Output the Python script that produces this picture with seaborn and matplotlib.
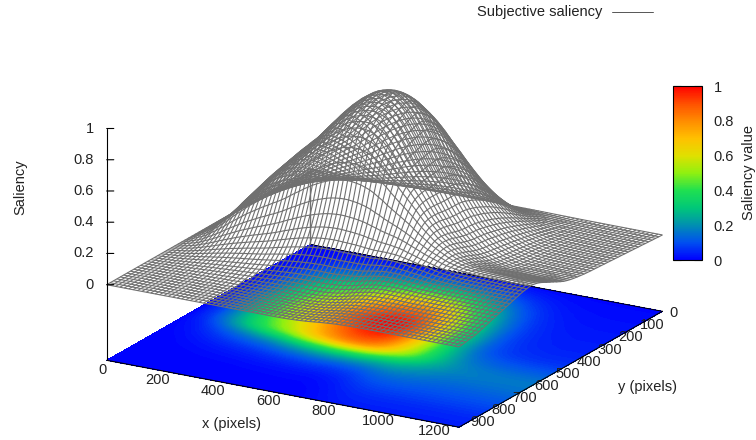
import numpy as np
import matplotlib
matplotlib.use('Agg')
import matplotlib.pyplot as plt
import seaborn as sns
from matplotlib.cm import ScalarMappable
from matplotlib.colors import Normalize
from mpl_toolkits.mplot3d import proj3d

sns.set_theme(style='white')
plt.rcParams['font.family'] = ['Liberation Sans', 'DejaVu Sans']

x_pixels = np.arange(0, 1201, 15)
y_pixels = np.arange(0, 901, 15)

main_x = [0, .02, .04, .06, .08, .105, .14, .17, .205, .24,
          .28, .315, .35, .385, .42, .45, .48, .51, .54, .565,
          .595, .62, .65, .68, .715, .75, .78, .815, .845, .875,
          .90, .925, .945, .965, .98, .99, .997, 1.0, .998, .99,
          .975, .95, .92, .88, .83, .78, .72, .66, .60, .545,
          .49, .435, .38, .33, .285, .245, .205, .175, .145, .12,
          .095, .075, .06, .045, .035, .027, .02, .014, .01, .007,
          .005, .003, .002, .001, 0, 0, 0, 0, 0, 0, 0]
main_y = [.01, .03, .055, .085, .12, .16, .205, .255, .31, .365,
          .425, .485, .545, .60, .655, .705, .755, .80, .84, .875,
          .91, .94, .965, .985, .998, 1.0, .992, .98, .968, .955,
          .94, .92, .895, .865, .825, .765, .68, .58, .475, .385,
          .31, .25, .20, .16, .125, .098, .075, .058, .045, .033,
          .024, .018, .012, .009, .007, .005, .003, .002, .001, .001, 0]
side_x = [0] * 40 + [.02, .05, .09, .14, .2, .27, .35, .45, .55, .64,
                     .72, .8, .86, .9, .94, .96, .98, .99] + [1] * 23
side_y = [.005, .006, .008, .009, .011, .012, .014, .015, .017, .018,
          .02, .021, .023, .024, .026, .027, .029, .03, .032, .033,
          .035, .036, .038, .04, .043, .046, .05, .054, .06, .067,
          .077, .088, .10, .111, .122, .134, .145, .153, .158, .16,
          .155, .151, .145, .137, .13, .122, .115, .107, .10, .093,
          .085, .077, .07, .062, .055, .048, .045, .041, .037, .033, .03]

x_ticks = [0, 200, 400, 600, 800, 1000, 1200]
y_ticks = [0, 100, 200, 300, 400, 500, 600, 700, 800, 900]
z_ticks = [0, 0.2, 0.4, 0.6, 0.8, 1]
cbar_ticks = [0, 0.2, 0.4, 0.6, 0.8, 1]
cbar_colors = ['#0000ff', '#0050f0', '#0090b0', '#00c878', '#20e050', '#90f010',
               '#e0e000', '#ffc000', '#ff8c00', '#ff5000', '#ff0000']

z_base = -0.484
wire_color = '#707070'
fs = 10.5

saliency = np.outer(main_y, main_x) + np.outer(side_y, side_x)
saliency = np.clip(saliency, 0, 1)
X, Y = np.meshgrid(x_pixels, y_pixels)
cmap = sns.blend_palette(cbar_colors, as_cmap=True)

W, H = 756, 440
fig = plt.figure(figsize=(W / 100, H / 100), dpi=100)
ax = fig.add_axes([33.3 / W, 1 - 451 / H, 684 / W, 450 / H], projection='3d',
                  computed_zorder=False, proj_type='ortho')
# gnuplot stretches the unit box to the canvas, so no square axes here
ax.apply_aspect = lambda position=None: None
ax.view_init(elev=30, azim=-60)
ax.set_box_aspect((1, 1, 1))
ax.set_xlim(0, 1200)
ax.set_ylim(900, 0)
ax.set_zlim(z_base, 1)
ax.set_axis_off()

ax.contourf(X, Y, saliency, levels=np.linspace(0, 1, 129), zdir='z', offset=z_base,
            cmap=cmap, vmin=0, vmax=1, zorder=1)
ax.plot([0, 1200], [0, 0], [z_base, z_base], color='black', lw=0.7, zorder=2)
ax.plot([0, 0], [0, 0], [z_base, 0], color=wire_color, lw=1, zorder=3)
ax.plot_wireframe(X, Y, saliency, rstride=1, cstride=1, color=wire_color, lw=0.8, zorder=4)

# front border and z axis
ax.plot([0, 1200], [900, 900], [z_base, z_base], color='black', lw=0.8, zorder=5)
ax.plot([1200, 1200], [0, 900], [z_base, z_base], color='black', lw=0.8, zorder=5)
ax.plot([0, 0], [900, 900], [z_base, 1], color='black', lw=0.8, zorder=5)


def label_at(x, y, z, text, dx, dy, ha='center'):
    xs, ys, _ = proj3d.proj_transform(x, y, z, ax.get_proj())
    ax.annotate(text, (xs, ys), xytext=(dx, -dy), textcoords='offset pixels',
                ha=ha, va='center', fontsize=fs, color='#222222', annotation_clip=False)


for i, t in enumerate(x_ticks):
    label_at(t, 900, z_base, str(t), -4 - 3.5 * i, 10 - i)
for i, t in enumerate(y_ticks):
    label_at(1200, t, z_base, str(t), 11 + 1.4 * i, 2 - 0.8 * i)
for t in z_ticks:
    ax.plot([0, 18], [900, 892], [t, t], color='black', lw=0.8, zorder=5)
    label_at(0, 900, t, f'{t:g}', -13, 0, ha='right')

fig.text(232 / W, 1 - 424 / H, 'x (pixels)', ha='center', va='center', fontsize=fs, color='#222222')
fig.text(648 / W, 1 - 387 / H, 'y (pixels)', ha='center', va='center', fontsize=fs, color='#222222')
fig.text(20 / W, 1 - 187 / H, 'Saliency', rotation=90, ha='center', va='center', fontsize=fs, color='#222222')
fig.text(602 / W, 1 - 12 / H, 'Subjective saliency', ha='right', va='center', fontsize=fs, color='#222222')
fig.add_artist(plt.Line2D([612 / W, 653 / W], [1 - 12 / H, 1 - 12 / H], color='#555555', lw=0.7))

cax = fig.add_axes([673 / W, 1 - 260 / H, 29 / W, 174 / H])
cbar = fig.colorbar(ScalarMappable(Normalize(0, 1), cmap), cax=cax, ticks=cbar_ticks)
cbar.ax.set_yticklabels([f'{t:g}' for t in cbar_ticks], fontsize=fs, color='#222222')
cbar.ax.tick_params(left=True, right=True, direction='in', length=6, width=0.8, pad=8.5)
cbar.outline.set_linewidth(0.8)
cbar.outline.set_edgecolor('black')
fig.text(749 / W, 1 - 172 / H, 'Saliency value', rotation=90, ha='center', va='center', fontsize=fs, color='#222222')

fig.savefig('out.png', dpi=100)
